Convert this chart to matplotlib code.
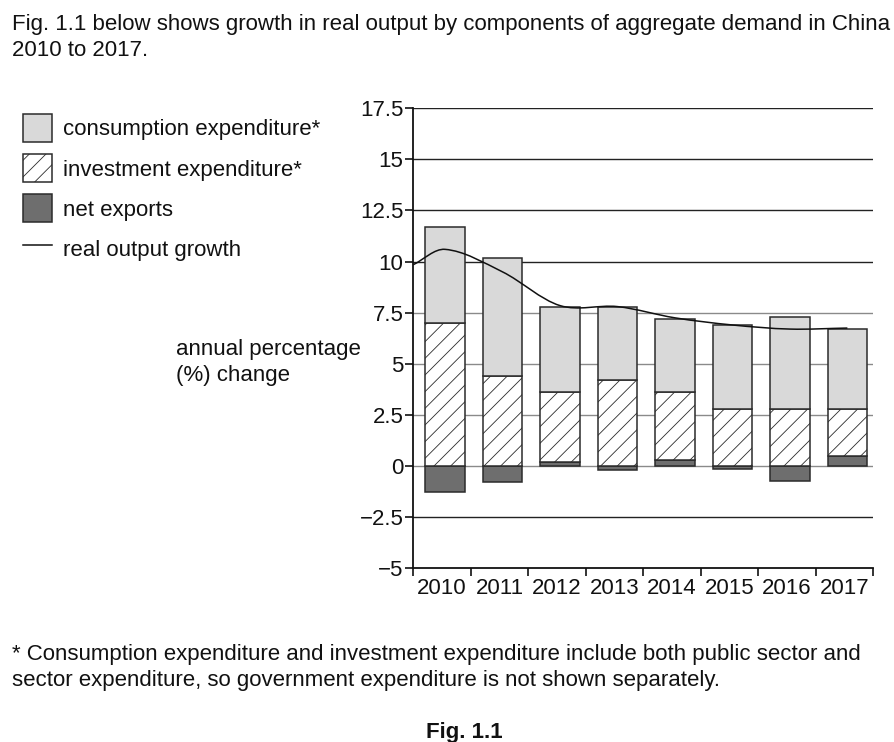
import numpy as np
import matplotlib
matplotlib.use('Agg')
import matplotlib.pyplot as plt
from matplotlib.patches import Patch, PathPatch
from matplotlib.lines import Line2D
from matplotlib.path import Path

plt.rcParams['font.family'] = ['Liberation Sans', 'DejaVu Sans']
plt.rcParams['hatch.linewidth'] = 0.6
plt.rcParams['axes.unicode_minus'] = True

# data (percentage points)
years = ['2010', '2011', '2012', '2013', '2014', '2015', '2016', '2017']
net_exports = [-1.25, -0.8, 0.2, -0.2, 0.3, -0.15, -0.75, 0.5]
investment = [7.0, 4.4, 3.4, 4.2, 3.3, 2.8, 2.8, 2.3]
consumption = [4.7, 5.8, 4.2, 3.6, 3.6, 4.1, 4.5, 3.9]

# real output growth curve: first value is where the line meets the y axis
growth_x = [-0.5, 0, 1, 2, 3, 4, 5, 6, 7]
growth = [9.85, 10.6, 9.5, 7.85, 7.8, 7.25, 6.9, 6.7, 6.75]

yticks = [-5, -2.5, 0, 2.5, 5, 7.5, 10, 12.5, 15, 17.5]
ytick_labels = ['\u22125', '\u22122.5', '0', '2.5', '5', '7.5', '10', '12.5', '15', '17.5']

fs = 16
ink = '#111111'

fig = plt.figure(figsize=(8.94, 7.42), dpi=100)
ax = fig.add_axes([0.4623, 0.2341, 0.5145, 0.6200])

x = np.arange(len(years))
shift = 0.05  # bars sit slightly right of the category centre in the original
ne = np.array(net_exports)
inv_base = np.clip(ne, 0, None)
con_base = inv_base + np.array(investment)

edge = '#2b2b2b'
w = 0.69
ax.bar(x + shift, ne, width=w, color='#6e6e6e', edgecolor=edge, linewidth=1.1, zorder=3)
ax.bar(x + shift, investment, width=w, bottom=inv_base, color='white', edgecolor=edge,
       hatch='//', linewidth=1.1, zorder=3)
ax.bar(x + shift, consumption, width=w, bottom=con_base, color='#d9d9d9', edgecolor=edge,
       linewidth=1.1, zorder=3)

# gridlines
for yv in yticks[1:]:
    col = '#8a8a8a' if 0 <= yv <= 7.5 else '#222222'
    ax.axhline(yv, color=col, linewidth=1.0, zorder=1)

# smooth line through the growth points (cubic bezier segments)
gx = np.array(growth_x, dtype=float)
gx[1:] += shift
gy = np.array(growth, dtype=float)
slopes = np.zeros_like(gy)
slopes[1:-1] = (gy[2:] - gy[:-2]) / (gx[2:] - gx[:-2])
slopes[0] = (gy[1] - gy[0]) / (gx[1] - gx[0])
slopes[-1] = (gy[-1] - gy[-2]) / (gx[-1] - gx[-2])
verts = [(gx[0], gy[0])]
codes = [Path.MOVETO]
for i in range(len(gx) - 1):
    h = gx[i + 1] - gx[i]
    verts += [(gx[i] + h / 3, gy[i] + slopes[i] * h / 3),
              (gx[i + 1] - h / 3, gy[i + 1] - slopes[i + 1] * h / 3),
              (gx[i + 1], gy[i + 1])]
    codes += [Path.CURVE4] * 3
ax.add_patch(PathPatch(Path(verts, codes), facecolor='none', edgecolor=ink,
                       linewidth=1.1, zorder=4))

ax.set_xlim(-0.5, 7.5)
ax.set_ylim(-5, 17.5)
ax.set_yticks(yticks)
ax.set_yticklabels(ytick_labels)
ax.set_xticks(np.arange(len(years) + 1) - 0.5)
ax.set_xticklabels([])
ax.set_xticks(x, minor=True)
ax.set_xticklabels(years, minor=True)
ax.tick_params(axis='x', which='major', direction='out', length=6, width=1.2, color=ink)
ax.tick_params(axis='x', which='minor', length=0, pad=7, labelsize=fs, labelcolor=ink)
ax.tick_params(axis='y', direction='out', length=6, width=1.2, pad=1, labelsize=fs,
               color=ink, labelcolor=ink)
for s in ['top', 'right']:
    ax.spines[s].set_visible(False)
for s in ['left', 'bottom']:
    ax.spines[s].set_linewidth(1.3)
    ax.spines[s].set_color(ink)

# legend
handles = [Patch(facecolor='#d9d9d9', edgecolor=edge, linewidth=1.1),
           Patch(facecolor='white', edgecolor=edge, hatch='//', linewidth=1.1),
           Patch(facecolor='#6e6e6e', edgecolor=edge, linewidth=1.1),
           Line2D([], [], color=ink, linewidth=1.1)]
labels = ['consumption expenditure*', 'investment expenditure*', 'net exports',
          'real output growth']
fig.legend(handles, labels, loc='upper left', bbox_to_anchor=(0.026, 0.846),
           frameon=False, fontsize=fs, handlelength=1.3, handleheight=1.55,
           labelspacing=0.55, handletextpad=0.5, borderaxespad=0, borderpad=0,
           labelcolor=ink)

fig.text(0.197, 0.5115, 'annual percentage\n(%) change', fontsize=fs, color=ink,
         ha='left', va='center', linespacing=1.32)

fig.text(0.013, 0.981, 'Fig. 1.1 below shows growth in real output by components of '
         'aggregate demand in China\n2010 to 2017.', fontsize=fs, color=ink,
         ha='left', va='top', linespacing=1.28)
fig.text(0.013, 0.132, '* Consumption expenditure and investment expenditure include both '
         'public sector and\nsector expenditure, so government expenditure is '
         'not shown separately.', fontsize=fs, color=ink, ha='left', va='top',
         linespacing=1.28)
fig.text(0.519, 0.0122, 'Fig. 1.1', fontsize=fs, fontweight='bold', color=ink,
         ha='center', va='center')

fig.savefig('out.png', dpi=100)
